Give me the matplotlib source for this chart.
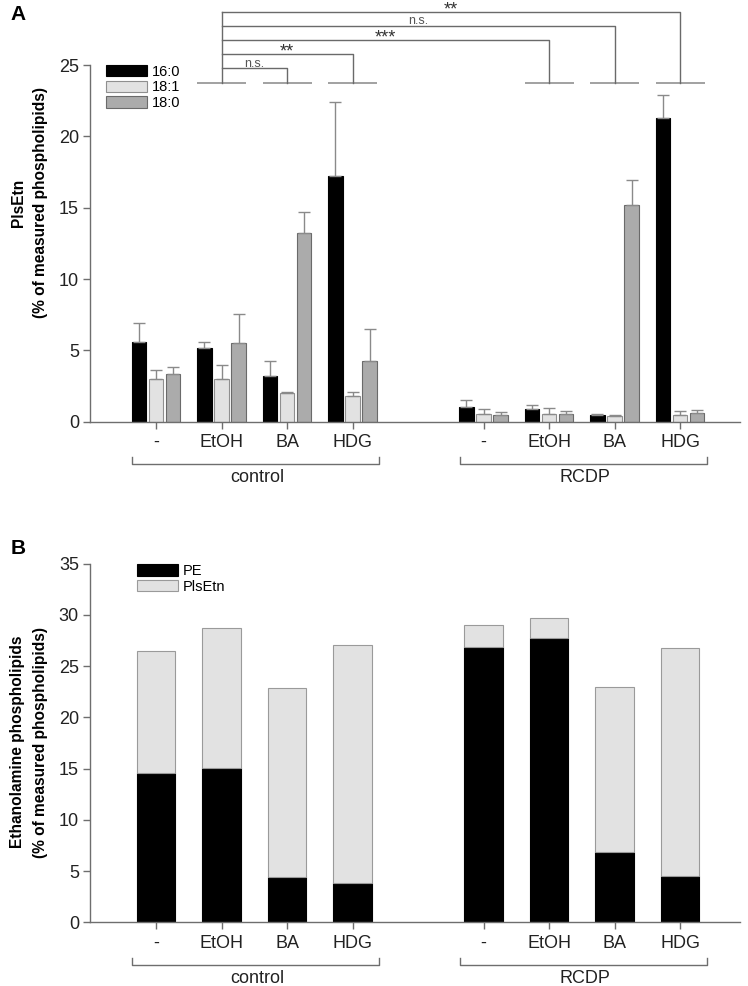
import matplotlib
matplotlib.use("Agg")
import matplotlib.pyplot as plt
import numpy as np

plt.rcParams['font.family'] = ['Liberation Sans', 'DejaVu Sans']

# ---------------- data ----------------
treatments = ['-', 'EtOH', 'BA', 'HDG', '-', 'EtOH', 'BA', 'HDG']
groups = ['control', 'RCDP']
species = ['16:0', '18:1', '18:0']

pls_160 = [5.6, 5.14, 3.22, 17.2, 1.0, 0.87, 0.47, 21.26]
pls_160_err = [1.35, 0.42, 1.05, 5.2, 0.54, 0.32, 0.09, 1.61]
pls_181 = [2.97, 2.97, 2.03, 1.82, 0.54, 0.56, 0.42, 0.47]
pls_181_err = [0.65, 0.98, 0.05, 0.26, 0.35, 0.38, 0.04, 0.28]
pls_180 = [3.34, 5.54, 13.25, 4.23, 0.47, 0.52, 15.19, 0.61]
pls_180_err = [0.46, 2.03, 1.42, 2.24, 0.19, 0.25, 1.75, 0.21]

pe_vals = [14.6, 15.1, 4.4, 3.8, 26.9, 27.7, 6.85, 4.5]
plsetn_vals = [11.9, 13.65, 18.5, 23.3, 2.1, 2.0, 16.1, 22.3]

sig_labels = ['n.s.', '**', '***', 'n.s.', '**']
sig_targets = ['control BA', 'control HDG', 'RCDP EtOH', 'RCDP BA', 'RCDP HDG']

# ---------------- layout ----------------
W, H = 748, 986
fig = plt.figure(figsize=(W / 100, H / 100), dpi=100)

xpos = np.array([0, 1, 2, 3, 5, 6, 7, 8], dtype=float)
xlim = (-1.008, 8.916)
line_col = '#6e6e6e'
tick_fs = 13


def style_axis(ax, ymax, step):
    ax.set_xlim(*xlim)
    ax.set_ylim(0, ymax)
    for s in ['top', 'right']:
        ax.spines[s].set_visible(False)
    ax.spines['left'].set_bounds(0, ymax)
    for s in ['left', 'bottom']:
        ax.spines[s].set_color(line_col)
        ax.spines[s].set_linewidth(1.0)
    ax.set_yticks(np.arange(0, ymax + 0.1, step))
    ax.set_yticklabels([f'{int(v)}' for v in np.arange(0, ymax + 0.1, step)])
    ax.set_xticks(xpos)
    ax.set_xticklabels(treatments)
    ax.tick_params(axis='both', direction='out', color=line_col, labelsize=tick_fs,
                   length=5, width=1.0, labelcolor='#222222')
    ax.tick_params(axis='x', pad=4)
    ax.tick_params(axis='y', pad=3)


def group_brackets(ax, ybr, yend, ylab):
    tr = ax.get_xaxis_transform()
    for gi, g in enumerate(groups):
        x0 = xpos[gi * 4] - 0.36
        x1 = xpos[gi * 4 + 3] + 0.41
        ax.plot([x0, x0, x1, x1], [yend, ybr, ybr, yend], color=line_col, lw=1.0,
                transform=tr, clip_on=False)
        ax.text((xpos[gi * 4] + xpos[gi * 4 + 3]) / 2 + 0.05, ylab, g, transform=tr,
                ha='center', va='center', fontsize=tick_fs, color='#222222')

# ---------------- panel A ----------------
ax1 = fig.add_axes([90 / W, (H - 421.7) / H, 650 / W, 356.7 / H])
style_axis(ax1, 25, 5)

bw = 0.22
off = 0.262
ekw = dict(ecolor='#8a8a8a', elinewidth=1.0, capsize=4.0, capthick=1.0)
ax1.bar(xpos - off, pls_160, bw, color='#000000', edgecolor='#000000', lw=0.8,
        yerr=[np.zeros(8), pls_160_err], error_kw=ekw, label=species[0])
ax1.bar(xpos, pls_181, bw, color='#e2e2e2', edgecolor='#8f8f8f', lw=0.8,
        yerr=[np.zeros(8), pls_181_err], error_kw=ekw, label=species[1])
ax1.bar(xpos + off, pls_180, bw, color='#ababab', edgecolor='#6a6a6a', lw=0.8,
        yerr=[np.zeros(8), pls_180_err], error_kw=ekw, label=species[2])

leg1 = ax1.legend(loc='upper left', bbox_to_anchor=(0.024, 1.001), frameon=False,
                  fontsize=10.5, handlelength=2.85, handleheight=0.84,
                  labelspacing=0.12, handletextpad=0.3, borderpad=0, borderaxespad=0)

group_brackets(ax1, -0.1186, -0.098, -0.156)

# significance brackets
ref = 1.0
targets = [2.0, 3.0, 6.0, 7.0, 8.0]
base_y = 23.76
levels = [24.77, 25.77, 26.75, 27.73, 28.73]
sig_col = '#6a6a6a'
for xx in [ref] + targets:
    ax1.plot([xx - 0.37, xx + 0.38], [base_y, base_y], color='#9a9a9a', lw=1.3,
             clip_on=False, solid_capstyle='butt')
ax1.plot([ref, ref], [base_y, levels[-1]], color=sig_col, lw=1.0, clip_on=False)
for t, lv, lab in zip(targets, levels, sig_labels):
    ax1.plot([ref, t, t], [lv, lv, base_y], color=sig_col, lw=1.0, clip_on=False)
    if lab == 'n.s.':
        ax1.text((ref + t) / 2, lv + 0.12, lab, ha='center', va='baseline', fontsize=9,
                 color='#555555', clip_on=False)
    else:
        ax1.text((ref + t) / 2, lv - 0.2, lab, ha='center', va='baseline', fontsize=13,
                 color='#333333', clip_on=False)

# ---------------- panel B ----------------
ax2 = fig.add_axes([90 / W, (H - 922.3) / H, 650 / W, 358.7 / H])
style_axis(ax2, 35, 5)
bw2 = 0.59
ax2.bar(xpos, pe_vals, bw2, color='#000000', edgecolor='#000000', lw=0.8, label='PE')
ax2.bar(xpos, plsetn_vals, bw2, bottom=pe_vals, color='#e2e2e2', edgecolor='#9a9a9a',
        lw=0.8, label='PlsEtn')
leg2 = ax2.legend(loc='upper left', bbox_to_anchor=(0.072, 0.999), frameon=False,
                  fontsize=10.5, handlelength=2.85, handleheight=0.84,
                  labelspacing=0.12, handletextpad=0.3, borderpad=0, borderaxespad=0)

group_brackets(ax2, -0.12, -0.0995, -0.156)

# ---------------- labels ----------------
fig.text(18 / W, 1 - 14 / H, 'A', fontsize=15, fontweight='bold', ha='center', va='center')
fig.text(18 / W, 1 - 548 / H, 'B', fontsize=15, fontweight='bold', ha='center', va='center')

ylab_kw = dict(rotation=90, fontsize=11.2, fontweight='bold', ha='center', va='center')
fig.text(18 / W, 1 - 203 / H, 'PlsEtn', **ylab_kw)
fig.text(41 / W, 1 - 203 / H, '(% of measured phospholipids)', **ylab_kw)
fig.text(18 / W, 1 - 742 / H, 'Ethanolamine phospholipids', **ylab_kw)
fig.text(41 / W, 1 - 742 / H, '(% of measured phospholipids)', **ylab_kw)

fig.savefig('out.png', dpi=100)
